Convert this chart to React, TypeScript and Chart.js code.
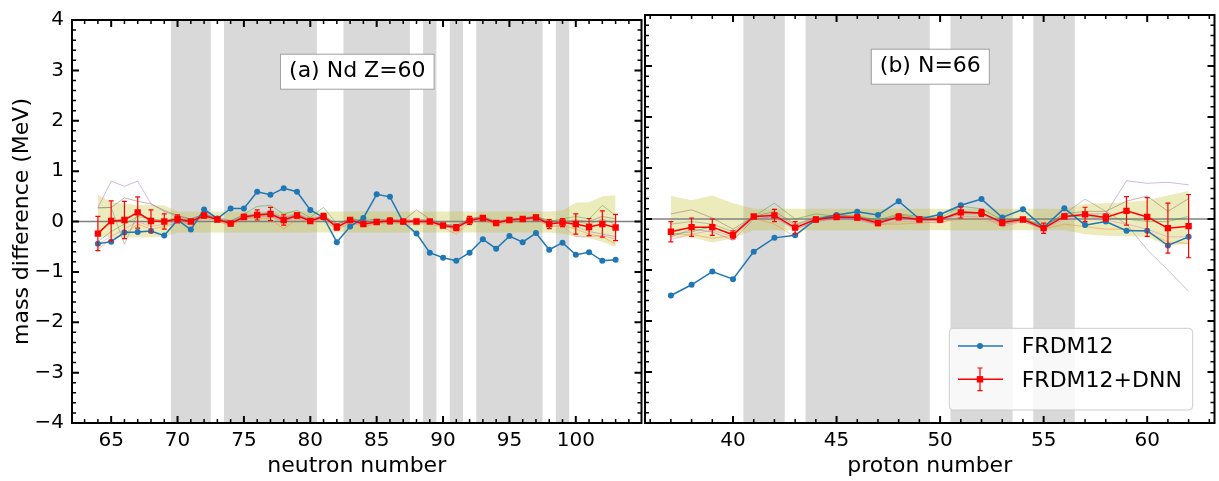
import React, { useEffect, useRef } from "react";
import { Chart, registerables } from "chart.js";

Chart.register(...registerables);

const FONT = "DejaVu Sans";

// ---------- Panel (a): Nd, Z = 60 ----------
const neutronNumbers = [64, 65, 66, 67, 68, 69, 70, 71, 72, 73, 74, 75, 76, 77, 78, 79, 80, 81, 82, 83, 84, 85, 86, 87, 88, 89, 90, 91, 92, 93, 94, 95, 96, 97, 98, 99, 100, 101, 102, 103];
const frdmA = [-0.44, -0.40, -0.22, -0.21, -0.19, -0.28, 0.03, -0.16, 0.24, 0.06, 0.26, 0.26, 0.59, 0.53, 0.66, 0.59, 0.23, 0.08, -0.41, -0.10, 0.07, 0.54, 0.49, -0.01, -0.24, -0.62, -0.72, -0.78, -0.62, -0.35, -0.54, -0.29, -0.41, -0.23, -0.56, -0.42, -0.66, -0.61, -0.78, -0.76];
const dnnA = [-0.24, 0.01, 0.03, 0.18, 0.01, 0.0, 0.05, 0.0, 0.12, 0.04, -0.04, 0.09, 0.13, 0.15, 0.03, 0.12, 0.01, 0.10, -0.11, 0.03, -0.05, -0.01, 0.01, 0.0, 0.0, 0.0, -0.08, -0.12, 0.02, 0.07, -0.03, 0.03, 0.05, 0.08, -0.05, -0.02, -0.05, -0.11, -0.05, -0.12];
const dnnErrA = [0.34, 0.40, 0.37, 0.31, 0.22, 0.15, 0.08, 0.03, 0.05, 0.04, 0.04, 0.05, 0.10, 0.13, 0.10, 0.05, 0.04, 0.06, 0.06, 0.04, 0.04, 0.04, 0.06, 0.03, 0.03, 0.03, 0.04, 0.06, 0.08, 0.04, 0.03, 0.03, 0.03, 0.04, 0.09, 0.08, 0.20, 0.17, 0.26, 0.26];
const bandUpperA = [0.53, 0.38, 0.35, 0.33, 0.33, 0.32, 0.20, 0.20, 0.20, 0.20, 0.20, 0.20, 0.20, 0.20, 0.20, 0.20, 0.20, 0.20, 0.20, 0.20, 0.20, 0.20, 0.20, 0.20, 0.20, 0.20, 0.20, 0.20, 0.20, 0.20, 0.20, 0.20, 0.20, 0.20, 0.20, 0.22, 0.37, 0.38, 0.50, 0.52];
const bandLowerA = [-0.30, -0.32, -0.32, -0.32, -0.32, -0.30, -0.22, -0.22, -0.22, -0.22, -0.22, -0.22, -0.22, -0.22, -0.22, -0.22, -0.22, -0.22, -0.22, -0.22, -0.22, -0.22, -0.22, -0.22, -0.22, -0.22, -0.22, -0.22, -0.22, -0.22, -0.22, -0.22, -0.22, -0.22, -0.22, -0.24, -0.31, -0.33, -0.40, -0.51];
const memberA1 = [0.27, 0.80, 0.70, 0.80, 0.35, 0.20, 0.10, 0.05, 0.15, 0.08, 0.02, 0.12, 0.15, 0.18, 0.08, 0.15, 0.05, 0.12, -0.08, 0.05, -0.02, 0.02, 0.04, 0.03, 0.02, 0.02, -0.05, -0.08, 0.05, 0.09, 0.0, 0.05, 0.07, 0.10, -0.02, 0.0, -0.10, -0.20, -0.25, -0.30];
const memberA2 = [0.27, 0.28, -0.45, 0.15, 0.05, 0.0, 0.05, -0.02, 0.10, 0.05, -0.05, 0.08, 0.10, 0.12, 0.0, 0.10, 0.0, 0.08, -0.12, 0.02, -0.06, -0.02, 0.0, -0.02, 0.05, 0.02, -0.10, -0.14, 0.05, 0.10, -0.04, 0.05, 0.06, 0.10, -0.04, 0.0, 0.0, -0.05, 0.05, -0.05];
const memberA3 = [0.27, 0.28, 0.47, 0.40, 0.35, 0.22, 0.12, 0.05, 0.14, 0.06, 0.0, 0.10, 0.14, 0.16, 0.05, 0.14, 0.03, 0.12, -0.05, 0.05, 0.0, 0.0, 0.03, 0.02, 0.23, 0.05, -0.06, -0.10, 0.04, 0.08, -0.02, 0.04, 0.06, 0.10, 0.02, 0.0, 0.03, 0.0, 0.10, 0.05];
const memberA4 = [-0.40, -0.20, -0.05, 0.10, 0.05, 0.02, 0.08, 0.02, 0.15, 0.05, 0.0, 0.15, 0.30, 0.32, 0.15, 0.22, 0.08, 0.28, -0.05, 0.06, 0.02, 0.05, 0.02, 0.02, 0.0, 0.02, -0.06, -0.08, 0.05, 0.10, 0.0, 0.05, 0.06, 0.10, 0.0, 0.05, 0.10, 0.05, 0.32, 0.12];
const memberA5 = [-0.55, -0.35, -0.25, -0.05, -0.15, -0.10, -0.02, -0.05, 0.08, 0.0, -0.08, 0.05, 0.08, 0.05, -0.15, 0.05, -0.02, 0.05, -0.18, -0.02, -0.10, -0.05, -0.02, -0.05, -0.05, -0.04, -0.12, -0.25, -0.02, 0.04, -0.08, 0.0, 0.02, 0.05, -0.10, -0.08, -0.15, -0.25, -0.30, -0.45];
const memberA6 = [-0.45, -0.30, -0.15, 0.0, -0.10, -0.05, 0.0, -0.03, 0.10, 0.02, -0.06, 0.06, 0.10, 0.10, 0.0, 0.08, 0.0, 0.06, -0.15, 0.0, -0.08, -0.03, 0.0, -0.02, -0.02, -0.02, -0.10, -0.15, 0.0, 0.05, -0.05, 0.02, 0.03, 0.06, -0.08, -0.10, -0.30, -0.30, -0.28, -0.35];
const shadedA = [[69.5, 72.5], [73.5, 80.5], [82.5, 87.5], [88.5, 89.5], [90.5, 91.5], [92.5, 97.5], [98.5, 99.5]];
const xTicksA = [65, 70, 75, 80, 85, 90, 95, 100];

// ---------- Panel (b): N = 66 ----------
const protonNumbers = [37, 38, 39, 40, 41, 42, 43, 44, 45, 46, 47, 48, 49, 50, 51, 52, 53, 54, 55, 56, 57, 58, 59, 60, 61, 62];
const frdmB = [-1.50, -1.29, -1.03, -1.18, -0.64, -0.37, -0.32, -0.01, 0.08, 0.14, 0.08, 0.35, 0.0, 0.09, 0.27, 0.39, 0.03, 0.19, -0.17, 0.21, -0.12, -0.05, -0.23, -0.23, -0.52, -0.35];
const dnnB = [-0.25, -0.16, -0.16, -0.31, 0.05, 0.07, -0.17, -0.01, 0.04, 0.03, -0.08, 0.04, -0.01, -0.01, 0.13, 0.12, -0.07, -0.01, -0.18, 0.05, 0.09, 0.03, 0.16, 0.04, -0.18, -0.14];
const dnnErrB = [0.20, 0.18, 0.16, 0.08, 0.03, 0.12, 0.12, 0.04, 0.04, 0.05, 0.05, 0.06, 0.04, 0.05, 0.11, 0.07, 0.06, 0.03, 0.10, 0.04, 0.14, 0.07, 0.28, 0.38, 0.49, 0.62];
const bandUpperB = [0.45, 0.37, 0.46, 0.31, 0.20, 0.20, 0.20, 0.20, 0.20, 0.20, 0.20, 0.20, 0.20, 0.20, 0.20, 0.20, 0.20, 0.20, 0.20, 0.20, 0.30, 0.31, 0.33, 0.37, 0.46, 0.55];
const bandLowerB = [-0.37, -0.36, -0.46, -0.38, -0.22, -0.22, -0.22, -0.22, -0.22, -0.22, -0.22, -0.22, -0.22, -0.22, -0.22, -0.22, -0.22, -0.22, -0.22, -0.22, -0.30, -0.33, -0.34, -0.35, -0.53, -0.48];
const memberB1 = [-0.35, -0.20, -0.25, -0.42, 0.0, 0.05, -0.20, -0.05, 0.02, 0.0, -0.10, 0.02, -0.03, -0.03, 0.10, 0.10, -0.10, -0.03, -0.20, 0.05, 0.10, 0.10, 0.75, 0.70, 0.72, 0.67];
const memberB2 = [-0.10, -0.05, -0.10, -0.25, 0.05, 0.10, -0.12, 0.0, 0.05, 0.05, -0.05, 0.05, 0.0, 0.0, 0.15, 0.10, -0.05, 0.0, -0.15, 0.10, 0.39, 0.15, -0.10, -0.60, -1.00, -1.42];
const memberB3 = [0.10, 0.18, 0.02, -0.20, 0.05, 0.15, -0.10, 0.02, 0.08, 0.05, -0.05, 0.08, 0.02, 0.0, 0.15, 0.12, -0.05, 0.02, -0.15, 0.10, 0.15, 0.15, 0.35, 0.45, 0.15, 0.40];
const memberB4 = [-0.30, -0.25, -0.15, -0.30, 0.05, 0.31, 0.0, 0.10, 0.05, 0.06, -0.02, 0.10, 0.05, 0.02, 0.25, 0.20, -0.02, 0.0, -0.12, 0.05, 0.05, 0.02, 0.0, -0.05, -0.05, 0.05];
const memberB5 = [-0.30, -0.30, -0.38, -0.32, 0.02, -0.10, -0.35, 0.0, 0.10, 0.0, -0.10, -0.10, -0.08, -0.05, 0.0, 0.02, -0.10, -0.05, -0.20, -0.10, -0.15, -0.20, -0.20, -0.25, -0.45, -0.48];
const memberB6 = [-0.40, -0.30, -0.22, -0.35, 0.02, 0.02, -0.20, -0.05, 0.0, -0.02, -0.12, -0.05, -0.05, -0.08, 0.05, 0.05, -0.15, -0.05, -0.20, 0.0, 0.0, -0.02, -0.10, -0.20, -0.35, -0.35];
const shadedB = [[40.5, 42.5], [43.5, 49.5], [50.5, 53.5], [54.5, 56.5]];
const xTicksB = [40, 45, 50, 55, 60];

const yTicks = [-4, -3, -2, -1, 0, 1, 2, 3, 4];
const memberColors = ["rgba(148,103,189,0.45)", "rgba(127,127,127,0.45)", "rgba(140,86,75,0.45)", "rgba(44,160,44,0.45)", "rgba(255,127,14,0.45)", "rgba(227,119,194,0.45)"];

const BLUE = "#1f77b4";
const RED = "#ff0000";

type Panel = {
  xs: number[];
  frdm: number[];
  dnn: number[];
  err: number[];
  upper: number[];
  lower: number[];
  members: number[][];
  shaded: number[][];
  xTicks: number[];
  xMin: number;
  xMax: number;
  xTitle: string;
  label: string;
  showY: boolean;
  legend: boolean;
  padding: { left: number; right: number; top: number; bottom: number };
};

const fmt = (v: number) => (v < 0 ? "\u2212" + Math.abs(v) : String(v));

function drawErrorBar(ctx: CanvasRenderingContext2D, px: number, yTop: number, yBot: number) {
  ctx.beginPath();
  ctx.moveTo(px, yTop);
  ctx.lineTo(px, yBot);
  ctx.moveTo(px - 2.5, yTop);
  ctx.lineTo(px + 2.5, yTop);
  ctx.moveTo(px - 2.5, yBot);
  ctx.lineTo(px + 2.5, yBot);
  ctx.stroke();
}

function makePlugin(p: Panel) {
  return {
    id: "panelDecor",
    beforeDatasetsDraw(chart: any) {
      const { ctx, chartArea, scales } = chart;
      const { top, bottom } = chartArea;
      ctx.save();
      ctx.fillStyle = "#d9d9d9";
      for (const [a, b] of p.shaded) {
        const x0 = scales.x.getPixelForValue(a);
        const x1 = scales.x.getPixelForValue(b);
        ctx.fillRect(x0, top, x1 - x0, bottom - top);
      }
      ctx.restore();
    },
    afterDatasetDraw(chart: any, args: any) {
      const { ctx, chartArea, scales } = chart;
      if (args.index === 8) {
        const y0 = scales.y.getPixelForValue(0);
        ctx.save();
        ctx.strokeStyle = "#808080";
        ctx.lineWidth = 1.5;
        ctx.beginPath();
        ctx.moveTo(chartArea.left, y0);
        ctx.lineTo(chartArea.right, y0);
        ctx.stroke();
        ctx.restore();
      }
      if (args.index === 0) {
        ctx.save();
        ctx.strokeStyle = RED;
        ctx.lineWidth = 1.2;
        p.xs.forEach((xv, i) => {
          const px = scales.x.getPixelForValue(xv);
          const yt = scales.y.getPixelForValue(p.dnn[i] + p.err[i]);
          const yb = scales.y.getPixelForValue(p.dnn[i] - p.err[i]);
          drawErrorBar(ctx, px, yt, yb);
        });
        ctx.restore();
      }
    },
    afterDraw(chart: any) {
      const { ctx, chartArea, scales } = chart;
      const { left, right, top, bottom } = chartArea;
      const xs = scales.x;
      const ys = scales.y;
      ctx.save();
      ctx.strokeStyle = "#000";
      // x ticks (inward, top and bottom)
      for (let v = Math.ceil(xs.min); v <= xs.max; v++) {
        const px = xs.getPixelForValue(v);
        const major = p.xTicks.includes(v);
        const len = major ? 7 : 4;
        ctx.lineWidth = major ? 2 : 1.5;
        ctx.beginPath();
        ctx.moveTo(px, bottom);
        ctx.lineTo(px, bottom - len);
        ctx.moveTo(px, top);
        ctx.lineTo(px, top + len);
        ctx.stroke();
      }
      // y ticks (inward, left and right)
      for (let k = -20; k <= 20; k++) {
        const v = k * 0.2;
        const py = ys.getPixelForValue(v);
        const major = k % 5 === 0;
        const len = major ? 7 : 4;
        ctx.lineWidth = major ? 2 : 1.5;
        ctx.beginPath();
        ctx.moveTo(left, py);
        ctx.lineTo(left + len, py);
        ctx.moveTo(right, py);
        ctx.lineTo(right - len, py);
        ctx.stroke();
      }
      // frame
      ctx.lineWidth = 2;
      ctx.strokeRect(left, top, right - left, bottom - top);

      // panel label box
      ctx.font = `22px "${FONT}"`;
      const tw = ctx.measureText(p.label).width;
      const cx = left + (right - left) * 0.501;
      const cy = top + 51.7;
      const bw = tw + 17;
      const bh = 35;
      ctx.fillStyle = "#ffffff";
      ctx.fillRect(cx - bw / 2, cy - bh / 2, bw, bh);
      ctx.strokeStyle = "#a0a0a0";
      ctx.lineWidth = 1;
      ctx.strokeRect(cx - bw / 2, cy - bh / 2, bw, bh);
      ctx.fillStyle = "#000";
      ctx.textAlign = "center";
      ctx.textBaseline = "middle";
      ctx.fillText(p.label, cx, cy);

      // legend
      if (p.legend) {
        const w = 243.4;
        const h = 81.7;
        const bx = right - 21.8 - w;
        const by = bottom - 13 - h;
        ctx.beginPath();
        if ((ctx as any).roundRect) (ctx as any).roundRect(bx, by, w, h, 4);
        else ctx.rect(bx, by, w, h);
        ctx.fillStyle = "rgba(255,255,255,0.8)";
        ctx.fill();
        ctx.strokeStyle = "#cccccc";
        ctx.lineWidth = 1;
        ctx.stroke();
        // row 1
        const y1 = by + 17.7;
        ctx.strokeStyle = BLUE;
        ctx.lineWidth = 1.5;
        ctx.beginPath();
        ctx.moveTo(bx + 8.7, y1);
        ctx.lineTo(bx + 53.7, y1);
        ctx.stroke();
        ctx.fillStyle = BLUE;
        ctx.beginPath();
        ctx.arc(bx + 30.7, y1, 3, 0, Math.PI * 2);
        ctx.fill();
        // row 2
        const y2 = by + 51;
        ctx.strokeStyle = RED;
        ctx.lineWidth = 1.5;
        ctx.beginPath();
        ctx.moveTo(bx + 8.7, y2);
        ctx.lineTo(bx + 53.7, y2);
        ctx.stroke();
        ctx.lineWidth = 1.2;
        drawErrorBar(ctx, bx + 30.7, y2 - 11.3, y2 + 11.3);
        ctx.fillStyle = RED;
        ctx.fillRect(bx + 30.7 - 3.2, y2 - 3.2, 6.4, 6.4);
        // text
        ctx.fillStyle = "#000";
        ctx.textAlign = "left";
        ctx.textBaseline = "middle";
        ctx.font = `22px "${FONT}"`;
        ctx.fillText("FRDM12", bx + 72.4, y1 + 1.5);
        ctx.fillText("FRDM12+DNN", bx + 72.4, y2 + 1.5);
      }
      ctx.restore();
    },
  };
}

function buildConfig(p: Panel): any {
  const pts = (arr: number[]) => p.xs.map((x, i) => ({ x, y: arr[i] }));
  const datasets: any[] = [
    {
      label: "FRDM12+DNN",
      data: pts(p.dnn),
      borderColor: RED,
      backgroundColor: RED,
      borderWidth: 1.5,
      pointStyle: "rect",
      pointRadius: 4.5,
      pointBorderWidth: 0,
      order: 0,
    },
    {
      label: "FRDM12",
      data: pts(p.frdm),
      borderColor: BLUE,
      backgroundColor: BLUE,
      borderWidth: 1.5,
      pointStyle: "circle",
      pointRadius: 3,
      pointBorderWidth: 0,
      order: 1,
    },
    ...p.members.map((m, k) => ({
      label: "member" + k,
      data: pts(m),
      borderColor: memberColors[k],
      borderWidth: 1,
      pointRadius: 0,
      order: 2,
    })),
    {
      label: "upper",
      data: pts(p.upper),
      borderWidth: 0,
      borderColor: "rgba(0,0,0,0)",
      backgroundColor: "rgba(188,189,34,0.3)",
      pointRadius: 0,
      fill: "+1",
      order: 3,
    },
    {
      label: "lower",
      data: pts(p.lower),
      borderWidth: 0,
      borderColor: "rgba(0,0,0,0)",
      pointRadius: 0,
      fill: false,
      order: 4,
    },
  ];

  return {
    type: "line",
    data: { datasets },
    options: {
      animation: false,
      responsive: false,
      devicePixelRatio: 1,
      layout: { padding: p.padding },
      plugins: { legend: { display: false }, tooltip: { enabled: false } },
      elements: { line: { tension: 0 } },
      scales: {
        x: {
          type: "linear",
          min: p.xMin,
          max: p.xMax,
          afterBuildTicks: (s: any) => {
            s.ticks = p.xTicks.map((v) => ({ value: v }));
          },
          afterFit: (s: any) => {
            s.height = 58;
          },
          grid: { display: false, drawTicks: false },
          border: { display: false },
          ticks: {
            color: "#000",
            font: { family: FONT, size: 20 },
            padding: 6,
            maxRotation: 0,
            minRotation: 0,
            autoSkip: false,
            callback: (v: any) => fmt(Number(v)),
          },
          title: {
            display: true,
            text: p.xTitle,
            color: "#000",
            font: { family: FONT, size: 22 },
            padding: { top: 0, bottom: 2 },
          },
        },
        y: {
          type: "linear",
          min: -4,
          max: 4,
          display: p.showY,
          afterBuildTicks: (s: any) => {
            s.ticks = yTicks.map((v) => ({ value: v }));
          },
          afterFit: (s: any) => {
            s.width = p.showY ? 72 : 0;
          },
          grid: { display: false, drawTicks: false },
          border: { display: false },
          ticks: {
            color: "#000",
            font: { family: FONT, size: 20 },
            padding: 8,
            autoSkip: false,
            callback: (v: any) => fmt(Number(v)),
          },
          title: {
            display: p.showY,
            text: "mass difference (MeV)",
            color: "#000",
            font: { family: FONT, size: 22 },
            padding: { top: 9, bottom: 0 },
          },
        },
      },
    },
    plugins: [makePlugin(p)],
  };
}

const panelA: Panel = {
  xs: neutronNumbers,
  frdm: frdmA,
  dnn: dnnA,
  err: dnnErrA,
  upper: bandUpperA,
  lower: bandLowerA,
  members: [memberA1, memberA2, memberA3, memberA4, memberA5, memberA6],
  shaded: shadedA,
  xTicks: xTicksA,
  xMin: 62.05,
  xMax: 104.95,
  xTitle: "neutron number",
  label: "(a) Nd Z=60",
  showY: true,
  legend: false,
  padding: { left: 0, right: 1, top: 15, bottom: 0 },
};

const panelB: Panel = {
  xs: protonNumbers,
  frdm: frdmB,
  dnn: dnnB,
  err: dnnErrB,
  upper: bandUpperB,
  lower: bandLowerB,
  members: [memberB1, memberB2, memberB3, memberB4, memberB5, memberB6],
  shaded: shadedB,
  xTicks: xTicksB,
  xMin: 35.75,
  xMax: 63.25,
  xTitle: "proton number",
  label: "(b) N=66",
  showY: false,
  legend: true,
  padding: { left: 5, right: 4.5, top: 15, bottom: 0 },
};

export default function App() {
  const refA = useRef<HTMLCanvasElement>(null);
  const refB = useRef<HTMLCanvasElement>(null);

  useEffect(() => {
    Chart.defaults.font.family = FONT;
    const a = new Chart(refA.current as HTMLCanvasElement, buildConfig(panelA));
    const b = new Chart(refB.current as HTMLCanvasElement, buildConfig(panelB));
    return () => {
      a.destroy();
      b.destroy();
    };
  }, []);

  return (
    <div style={{ position: "fixed", left: 0, top: 0, width: 1219, height: 481, background: "#fff" }}>
      <canvas ref={refA} width={646} height={481} style={{ position: "absolute", left: 0, top: 0, width: 646, height: 481 }} />
      <canvas ref={refB} width={579} height={481} style={{ position: "absolute", left: 640, top: 0, width: 579, height: 481 }} />
    </div>
  );
}
